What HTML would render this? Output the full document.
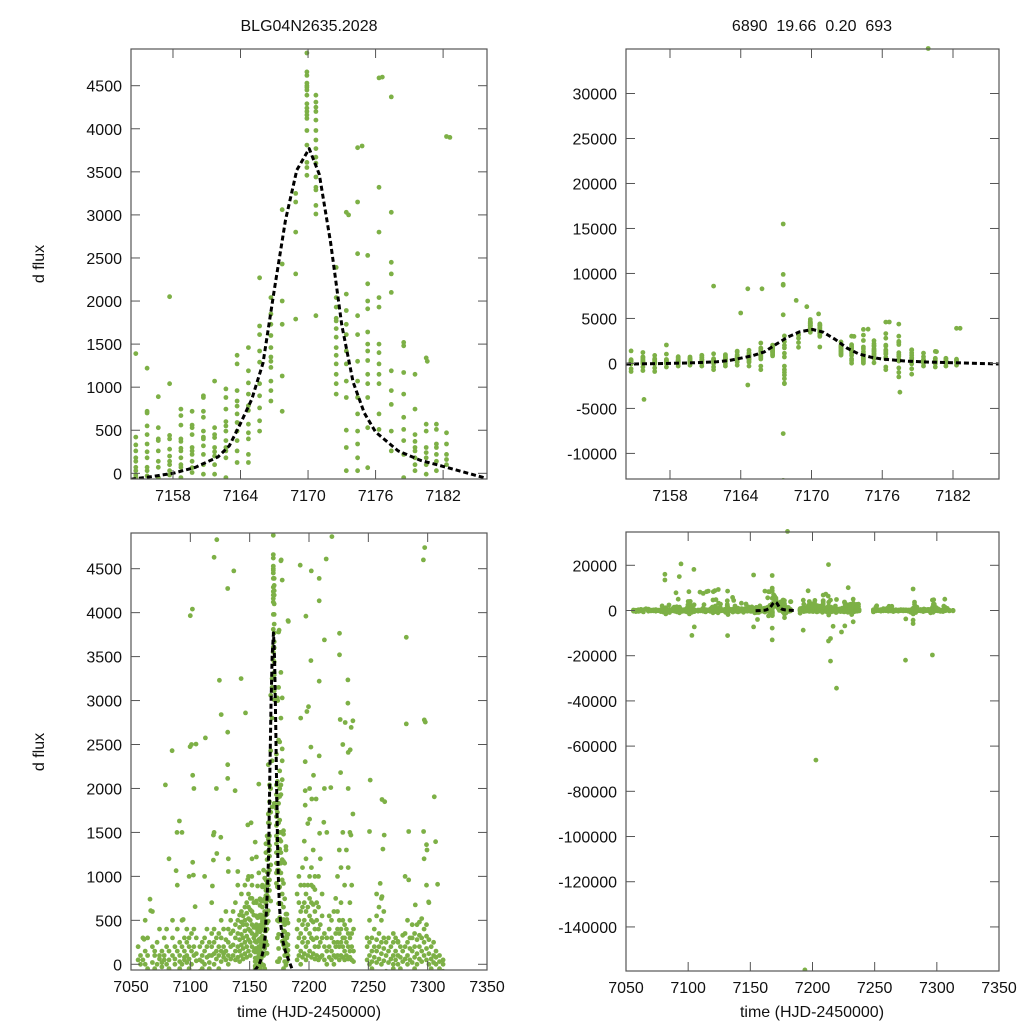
<!DOCTYPE html>
<html><head><meta charset="utf-8"><style>
html,body{margin:0;padding:0;background:#fff;width:1024px;height:1024px;overflow:hidden;}
svg{display:block;font-family:"Liberation Sans",sans-serif;}
</style></head><body>
<svg id="chart" width="1024" height="1024" viewBox="0 0 1024 1024" xmlns="http://www.w3.org/2000/svg">
<rect width="1024" height="1024" fill="#fff"/>
<text x="309" y="31" font-size="16" text-anchor="middle" fill="#111">BLG04N2635.2028</text>
<text x="812" y="31" font-size="16" text-anchor="middle" fill="#111" xml:space="preserve">6890  19.66  0.20  693</text>
<text transform="translate(44,264) rotate(-90)" font-size="16" text-anchor="middle" fill="#111">d flux</text>
<text transform="translate(44,752) rotate(-90)" font-size="16" text-anchor="middle" fill="#111">d flux</text>
<text x="309" y="1017" font-size="16" text-anchor="middle" fill="#111">time (HJD-2450000)</text>
<text x="812" y="1017" font-size="16" text-anchor="middle" fill="#111">time (HJD-2450000)</text>
<g id="panels"></g>
</svg>
<script>
// ---- data: nightly streaks (time, flux values) ----
const nightTimes = [
7056,7058,7060,7062,7064,7068,7070,7072,7074,7076,7078,7080,7082,7085,7087,7089,7091,7093,7095,7097,7099,7101,7103,7105,7108,7110,7112,7114,7116,7118,7120,7122,7124,7126,7128,7130,7132,7134,7136,7138,7140,7141.5,7143,7144.5,7146,7147.5,7149,7150.5,7152,7153.5,
7154.7,7155.7,7156.7,7157.7,7158.7,7159.7,7160.7,7161.7,7162.7,7163.7,7164.7,7165.7,7166.7,7167.7,7168.9,7169.9,7170.7,7172.5,7173.4,7174.4,7175.3,7176.3,7177.4,7178.5,7179.5,7180.5,7181.4,7182.3,
7190,7191.5,7193,7194.5,7196,7197.5,7199,7200.5,7202,7203.5,7205,7206.5,7208,7209.5,7211,7213,7215,7217,7219,7221,7222.5,7224,7225.5,7227,7228.5,7230,7231.5,7233,7234.5,7236,7237.5,
7249,7251,7253,7255,7257,7259,7261,7263,7265,7267,7269,7271,7273,7275,7277,7279,7281,7283,7285,7287,7289,7291,7293,7295,7297,7299,7301,7303,7305,7307,7310,7313];
const nightFlux = [
[-100,50,-300,200],[100,-200,0,-500],[50,-100,300,-400],[0,150,-200,500],[-50,100,-600,300],[20,-100,200,-300,600],[100,-50,-200,150],[0,250,-150],[60,-300,100,400],[-30,150,-100,20],[100,-200,300,-500,50],[0,200,-100,400,-700],[50,-50,150,-300,1200,-1500],[100,300,-200,-900,500],[0,-150,200,60],[150,-100,400,-300,900],[30,100,-50,250,-600],[0,200,-200,500,-1000,1500],[80,-100,300,-400,50,150],[20,100,250,-300,400],[60,-50,300,200,-600,1000],[0,150,350,-200,-1500,2500],[100,200,400,-300,-800,2000],[40,120,-100,300,-500],[50,-80,200,-300],[100,-50,250,-150,30],[0,150,300,-300,1000],[80,-100,200,400,-600],[20,-50,100,250],[100,200,-150,350,-400,700],[0,120,250,400,-300,-1000,1500],[60,150,300,-200,-500,2000],[100,-50,200,350,-1000],[30,150,300,-200,500],[80,-100,200,400,120],[50,150,280,-300,600,-800],[0,100,250,400,-500,1200,-1800],[60,200,350,-200,500],[100,220,380,-150,600,-700],[50,150,300,450,-300,700],[80,200,350,500,-200,-600,900],[30,150,280,420,560,-300],[100,220,340,480,600,-150,800],[60,180,300,450,550,-200,-800],[120,250,380,500,650,-100,900],[80,200,320,450,580,700,-300],[150,280,400,520,650,800,-200,1000],[100,250,380,500,620,750,-400],[200,350,450,600,750,900,-100,1200],[150,300,420,560,700,-300,-1000],
[1390,420,330,260,180,140,70,30,-20,-50,-600,-900],[1220,720,700,550,450,340,250,180,70,30,-30,-400,-800],[890,530,400,380,260,140,70,-50,-500,-900],[2050,1040,440,400,280,200,140,100,30,-20,-400],[745,670,560,400,370,290,260,180,100,70,-50,-300],[720,560,530,450,300,260,220,140,65,10,-200],[900,880,720,650,490,420,400,320,220,100,-10,-300],[1070,530,450,415,300,250,200,100,-10,-400,-700],[980,880,745,600,550,490,380,300,260,180,-50,-300],[1370,1270,960,840,780,690,590,490,380,260,125,-200],[1460,1190,1050,920,785,730,570,470,400,220,125,-300],[2270,1710,1610,1420,1290,1040,900,760,610,490,-300,-700],[2040,1850,1730,1600,1460,1350,1300,1230,1070,960,840],[3060,2430,2000,1730,1130,720,-300,-700,-1000,-1300,-1700,-2200,-2250],[3250,3150,2800,2315,1790],[4880,4660,4620,4530,4500,4480,4450,4390,4290,4240,4200,4160,4120,3980,3810,3610,3550,3460],[4390,4310,4250,4200,4100,3980,3870,3770,3670,3600,3440,3320,3290,3110,3010,1830],[2390,2040,1930,1800,1770,1680,1580,1460,1370,1270,1150,1040,920],[3030,2080,1890,1730,1610,1420,1270,1070,880,500,300,30],[3780,3150,2550,1830,1610,1300,1070,880,690,490,340,180,30],[2530,2200,2000,1910,1640,1500,1420,1310,1150,1040,880,530,65],[4590,3320,2800,2040,1930,1500,1400,1270,1150,1040,690,510,-400,-700],[4370,3030,2450,2315,2100,1190,960,800,490,260,-500,-1000,-1500],[1520,1480,1170,920,650,510,380,220,-50,-600,-1200],[1150,745,450,370,300,260,180,100,30,-300],[1340,570,490,300,240,180,100,-10,-400],[570,510,340,300,220,140,30,-300],[3910,470,340,220,160,100,-200],
[50,200,400,-300,800,-1200],[100,300,500,-200,700,1000],[0,150,350,600,-500,900,2800],[80,250,450,650,-300,1100],[120,300,500,700,-200,900,1400],[50,200,400,600,800,-400,1200],[100,250,450,650,900,-300,1600],[150,350,550,750,1000,-500,1650,2000],[80,300,500,700,900,1100,-200],[120,280,480,680,880,-600,1300],[60,200,400,600,850,1000,-300],[100,300,500,700,-200],[50,200,400,650,1000,-800],[80,250,450,-300,1200],[100,300,550,-500,800],[50,200,350,-1000,2000,-2000],[0,150,300,-600,1500],[80,200,400,-400,550],[50,150,300,500,-900],[0,100,250,-300,600],[80,200,350,-500,750],[100,250,400,600,-400,1000],[50,200,350,500,-600,1300],[100,250,400,-300,700,1100],[80,200,300,500,-800,1500,2500],[50,150,300,450,-500,900],[100,250,400,-300,1300,-1800],[60,200,350,-600,1100,2000],[80,150,300,500,-400,700,1500],[50,200,350,-300,900],[30,150,-200,400],
[50,-100,200,300,-600],[0,100,250,-200,500],[30,150,-50,300],[80,-100,200,400,-300],[20,150,280,-150,550,800],[60,200,-100,350,650],[0,120,250,-300,500,750],[40,180,300,-200,600],[100,-80,250,-500],[20,150,-150,300],[60,-100,200,-300],[0,100,-50,250,350],[50,150,-200,300],[0,100,-100,250,260],[80,-50,200,-300],[30,150,-100,330,-800],[60,200,-200,350,1000,-1500],[0,100,250,-150,500,-900],[50,180,-100,300],[20,150,300,-200,450],[80,200,-50,350,-500],[0,120,280,-150,450],[60,200,-100,330,480],[30,150,300,-200,520,-1000],[100,250,-150,400,-800,1200],[50,180,320,-100,450,900],[0,120,-200,280,700],[60,-50,200,-400],[20,100,-150,250,-500],[0,80,-100,150],[30,-50,100,-200],[0,-80,50,-150]];
// ---- data: isolated points ----
const sparseT = [7061,7066,7066.6,7079,7084.6,7088,7088.8,7090.8,7094,7099.8,7100,7101.7,7102,7102,7102.6,7104,7104.8,7112.7,7118.6,7119.4,7119.4,7120,7122.3,7122.3,7124.5,7126,7125.7,7131.5,7131.5,7131.5,7131.5,7132,7136.6,7137.7,7140,7142.8,7146.5,7148.4,7148.4,7151.2,7151.8,
7155.8,7161.7,7164,7164.6,7164.6,7165.8,7167.6,7167.6,7167.6,7167.6,7167.6,7167.6,7167.6,7168.7,7169.6,7170.6,7173.6,7174.8,7176.6,7177.5,7179.9,7180.6,7182.6,
7192.6,7196.8,7201.9,7201.6,7201.6,7203.8,7208.6,7208.6,7208.6,7208.6,7213,7214.5,7219.3,7218.4,7225.7,7225.7,7226.3,7230.5,7232.8,7232.8,7235.6,7237,7233,7234.7,7237,7235.3,7226.6,7198.2,7199.6,7196.8,7196.8,7202.4,7206,7212.5,7208.9,7197.4,
7251.6,7251,7261.5,7263.8,7263.4,7262.3,7282,7282,7284,7297.5,7297.2,7298,7296.6,7305.6,7306.7,7308.4,7284,7299,7299.4,7300.8,7289.6,7260,7261.5,
7081.3,7081.3,7090.2,7092,7092.9,7094.2,7100.6,7103,7104.6,7104.9,7109.5,7112.1,7114.8,7116.2,7120.2,7121.5,7124.2,7131.7,7131.7,7135.7,7152.6,7152.6,
7192.5,7196.5,7208.6,7210.7,7212.9,7212.6,7212.9,7214.5,7214.5,7216.6,7219.3,7223.3,7226,7228.7,7232.7,7232.7,7274.8,7280.9,7280.9,7280.9,7275,7296.4,7296.4,7306.4,7202.7,7193.9];
const sparseF = [284,740,610,2040,2430,1065,1500,1630,510,2475,3965,4040,2150,1160,1015,655,2505,2575,890,1185,1470,4630,4830,1260,3230,2840,1445,4275,2640,2270,2115,1055,4475,1975,1055,3250,2860,965,1585,1610,1000,
-4000,8600,5600,8300,-2400,8300,15500,9900,8800,8700,5400,-7800,-13000,7000,6300,5500,3000,3800,4600,-3200,35000,1300,3900,
4540,2305,4475,3455,2470,2150,4390,4135,3220,2370,3690,4610,4865,2010,3765,3520,2785,2750,2970,3235,2695,2770,2410,2440,1710,1470,2180,2875,2930,1975,1810,1880,1880,1615,1490,3960,
2095,1510,1875,1850,1470,1310,3720,2735,1510,4740,2780,2755,1510,1905,1395,910,960,1360,1300,710,675,920,770,
16000,13500,7850,5000,15000,20600,8300,-11000,18200,-7250,8150,7550,8300,8600,8300,8750,9300,8600,-11100,5800,15700,-7250,
-8700,8700,6800,7250,20300,6350,-13500,-12400,-22400,-7000,-34400,-9500,-6800,10100,5000,-5000,-22000,9500,-4300,-5800,-3700,-19700,4600,5000,-66200,-159000];
// ---- model fit curve ----
const modelT = [7154.27,7156,7158,7160,7162,7163,7164,7165,7166,7167,7168,7169,7170.1,7171,7172,7173,7174,7175,7176,7178,7180,7182,7185.9];
const modelF = [-70,-40,0,70,190,320,580,860,1280,2130,2940,3520,3770,3470,2680,1720,1060,700,480,260,150,80,-60];
// ---- axis ticks ----
const ticksXZoom = [7158,7164,7170,7176,7182];
const ticksXFull = [7050,7100,7150,7200,7250,7300,7350];
const ticksYSmall = [0,500,1000,1500,2000,2500,3000,3500,4000,4500];
const ticksYMid = [-10000,-5000,0,5000,10000,15000,20000,25000,30000];
const ticksYBig = [-140000,-120000,-100000,-80000,-60000,-40000,-20000,0,20000];

const NS = "http://www.w3.org/2000/svg";
const root = document.getElementById('panels');
function mk(tag, attrs, parent){const e=document.createElementNS(NS,tag);for(const k in attrs)e.setAttribute(k,attrs[k]);parent.appendChild(e);return e;}

const panels = [
 {id:'top-left', L:131,R:487,T:49,B:479, x0:7154.27,x1:7185.9, y0:-66,y1:4926, xt:ticksXZoom, yt:ticksYSmall},
 {id:'top-right',L:626,R:999,T:49,B:479, x0:7154.27,x1:7185.9, y0:-12844,y1:34946, xt:ticksXZoom, yt:ticksYMid},
 {id:'bottom-left',L:131,R:487,T:533,B:970, x0:7050,x1:7350, y0:-65,y1:4906, xt:ticksXFull, yt:ticksYSmall},
 {id:'bottom-right',L:626,R:999,T:532,B:971, x0:7050,x1:7350, y0:-159500,y1:34730, xt:ticksXFull, yt:ticksYBig}
];

panels.forEach(p=>{
  const sx = t => p.L + (t-p.x0)/(p.x1-p.x0)*(p.R-p.L);
  const sy = v => p.B - (v-p.y0)/(p.y1-p.y0)*(p.B-p.T);
  const yr = (p.y1-p.y0)*0.01;
  const inside = (t,v) => t>=p.x0 && t<=p.x1 && v>=p.y0-yr && v<=p.y1+yr;
  const g = mk('g',{},root);
  
  
  const cp = mk('clipPath',{id:'clip-'+p.id},g);
  mk('rect',{x:p.L,y:p.T-3,width:p.R-p.L,height:p.B-p.T+3},cp);
  const pts = mk('g',{'clip-path':'url(#clip-'+p.id+')',fill:'#7db046'},g);
  
  
  for(let i=0;i<nightTimes.length;i++){
    const t=nightTimes[i];
    nightFlux[i].forEach(v=>{
      if(!inside(t,v)) return;
      const c=mk('circle',{cx:sx(t).toFixed(1),cy:sy(v).toFixed(1),r:2.4},pts);
      
      
    });
  }
  for(let i=0;i<sparseT.length;i++){
    const t=sparseT[i], v=sparseF[i];
    if(!inside(t,v)) continue;
    const c=mk('circle',{cx:sx(t).toFixed(1),cy:sy(v).toFixed(1),r:2.4},pts);
    
    
  }
  let d='';
  modelT.forEach((t,i)=>{d+=(i?'L':'M')+sx(t).toFixed(1)+','+sy(modelF[i]).toFixed(1);});
  const m=mk('path',{d:d,fill:'none',stroke:'#000','stroke-width':3,'stroke-dasharray':'5,3','clip-path':'url(#clip-'+p.id+')','stroke-linejoin':'round'},g);
  
  
  const fr=mk('rect',{x:p.L,y:p.T,width:p.R-p.L,height:p.B-p.T,fill:'none',stroke:'#555','stroke-width':1.2},g);
  
  
  const tk=mk('g',{stroke:'#555','stroke-width':1},g);
  p.xt.forEach(t=>{
    const x=sx(t);
    mk('line',{x1:x,y1:p.B,x2:x,y2:p.B-9},tk);
    mk('line',{x1:x,y1:p.T,x2:x,y2:p.T+9},tk);
    const lb=mk('text',{x:x,y:p.B+22,'font-size':16,'text-anchor':'middle',fill:'#111',stroke:'none'},g);
    lb.textContent=t;
    
    
  });
  p.yt.forEach(v=>{
    const y=sy(v);
    mk('line',{x1:p.L,y1:y,x2:p.L+9,y2:y},tk);
    mk('line',{x1:p.R,y1:y,x2:p.R-9,y2:y},tk);
    const lb=mk('text',{x:p.L-9,y:y+6,'font-size':16,'text-anchor':'end',fill:'#111'},g);
    lb.textContent=v;
    
    
  });
});
</script>
</body></html>
